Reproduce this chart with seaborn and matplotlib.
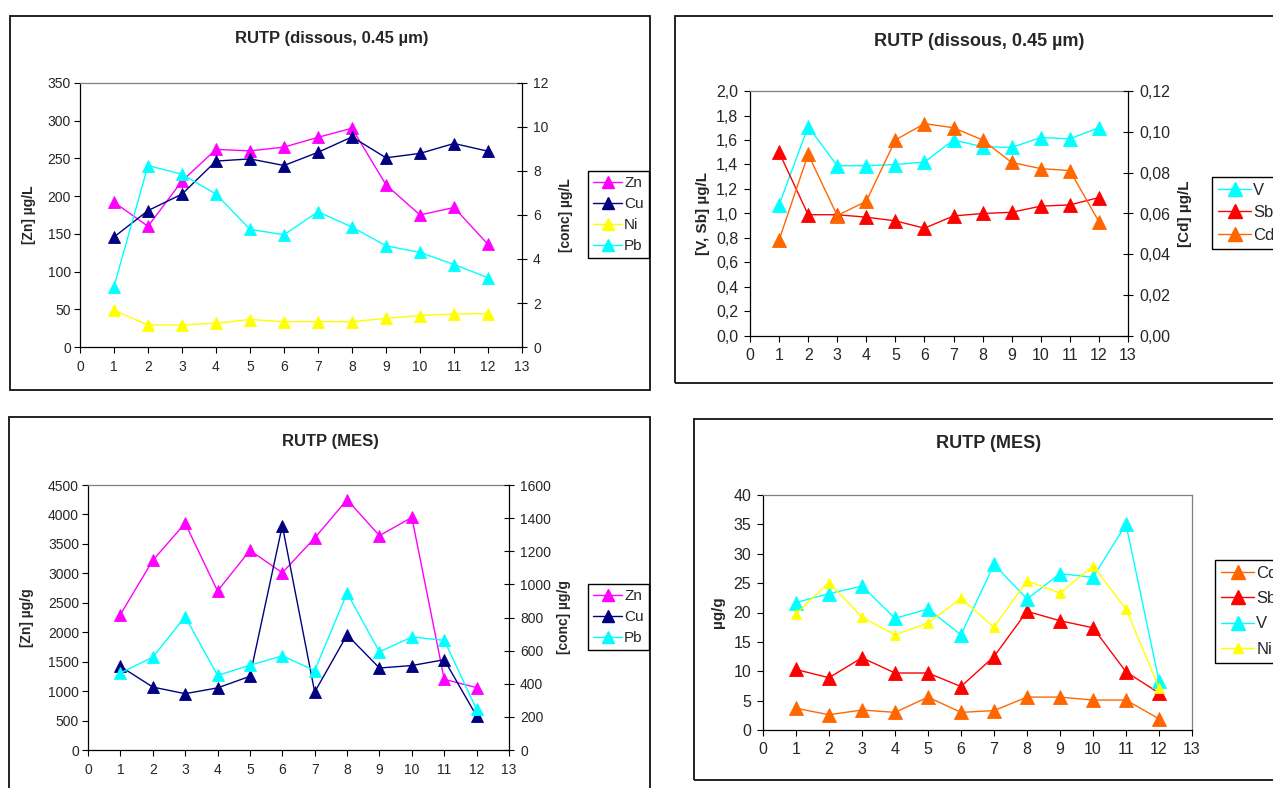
import matplotlib
matplotlib.use('Agg')
import matplotlib.pyplot as plt
import seaborn as sns
from matplotlib.patches import Rectangle
from matplotlib.ticker import FuncFormatter, MultipleLocator
from matplotlib.lines import Line2D

sns.set_style('white')
plt.rcParams['font.family'] = ['Liberation Sans', 'DejaVu Sans']

W, H = 1273, 788

# ---------------- data ----------------
stations = list(range(1, 13))
x_ticks = list(range(0, 14))

# Panel 1 : RUTP dissous (µg/L)
zn_d = [192, 160, 220, 262, 260, 265, 278, 290, 215, 175, 185, 136]
cu_d = [5.0, 6.2, 6.95, 8.45, 8.55, 8.25, 8.85, 9.55, 8.6, 8.8, 9.25, 8.9]
ni_d = [1.67, 1.0, 1.0, 1.08, 1.25, 1.15, 1.15, 1.15, 1.3, 1.43, 1.5, 1.52]
pb_d = [2.75, 8.25, 7.85, 6.95, 5.35, 5.1, 6.15, 5.45, 4.6, 4.3, 3.75, 3.15]

# Panel 2 : RUTP dissous (µg/L)
v_d = [1.07, 1.71, 1.39, 1.39, 1.40, 1.42, 1.60, 1.545, 1.54, 1.62, 1.61, 1.70]
sb_d = [1.50, 0.99, 0.99, 0.97, 0.94, 0.88, 0.98, 1.00, 1.01, 1.06, 1.07, 1.13]
cd_d = [0.047, 0.089, 0.059, 0.066, 0.096, 0.104, 0.102, 0.096, 0.085, 0.082, 0.081, 0.056]

# Panel 3 : RUTP MES (µg/g)
zn_m = [2300, 3220, 3850, 2700, 3390, 3010, 3600, 4250, 3640, 3950, 1200, 1060]
cu_m = [505, 380, 340, 375, 445, 1355, 350, 695, 495, 510, 545, 205]
pb_m = [465, 560, 805, 450, 512, 568, 480, 948, 593, 682, 662, 245]

# Panel 4 : RUTP MES (µg/g)
cd_m = [3.7, 2.6, 3.4, 3.0, 5.6, 3.0, 3.3, 5.6, 5.6, 5.1, 5.1, 1.9]
sb_m = [10.3, 8.9, 12.3, 9.7, 9.7, 7.4, 12.5, 20.2, 18.6, 17.4, 9.9, 6.3]
v_m = [21.7, 23.2, 24.5, 19.0, 20.6, 16.2, 28.2, 22.3, 26.6, 26.0, 35.0, 8.3]
ni_m = [19.8, 25.1, 19.2, 16.2, 18.2, 22.4, 17.5, 25.4, 23.3, 27.9, 20.6, 7.2]

C_ZN = '#FF00FF'
C_CU = '#000080'
C_NI = '#FFFF00'
C_PB = '#00FFFF'
C_SB = '#FF0000'
C_CD = '#FF6600'
GRAY = '#808080'

fig = plt.figure(figsize=(W / 100, H / 100), dpi=100)
fig.patch.set_facecolor('white')


def rect(x0, y0, x1, y1):
    return [x0 / W, 1 - y1 / H, (x1 - x0) / W, (y1 - y0) / H]


def frame(x0, y0, x1, y1):
    fig.add_artist(Rectangle((x0 / W, 1 - y1 / H), (x1 - x0) / W, (y1 - y0) / H,
                             transform=fig.transFigure, fill=False,
                             edgecolor='#111111', lw=1.3, clip_on=False))


def series(ax, y, color, ms):
    sns.lineplot(x=stations, y=y, ax=ax, color=color, marker='^',
                 markersize=ms, markeredgecolor=color, markeredgewidth=0.6,
                 linewidth=1.0, legend=False, errorbar=None)


def handle(color, ms):
    return Line2D([], [], color=color, marker='^', markersize=ms,
                  markeredgecolor=color, linewidth=1.0)


def comma(dec):
    return FuncFormatter(lambda v, p: f'{v:.{dec}f}'.replace('.', ','))


def style_main(ax, ymax, step, fs, lpad, xpad, right_spine, fmt=None):
    ax.set_xlim(0, 13)
    ax.set_xticks(x_ticks)
    ax.set_ylim(0, ymax)
    ax.yaxis.set_major_locator(MultipleLocator(step))
    if fmt is not None:
        ax.yaxis.set_major_formatter(fmt)
    ax.tick_params(axis='y', direction='out', length=4, width=0.8,
                   labelsize=fs, color='black', pad=lpad, left=True)
    ax.tick_params(axis='x', direction='out', length=4, width=0.8,
                   labelsize=fs, color='black', pad=xpad, bottom=True)
    ax.spines['left'].set_color('black')
    ax.spines['bottom'].set_color('black')
    ax.spines['left'].set_linewidth(0.9)
    ax.spines['bottom'].set_linewidth(0.9)
    ax.spines['top'].set_color(GRAY)
    ax.spines['top'].set_linewidth(0.9)
    if right_spine:
        ax.spines['right'].set_color(GRAY)
        ax.spines['right'].set_linewidth(0.9)
    else:
        ax.spines['right'].set_visible(False)
    ax.set_xlabel('')
    ax.set_facecolor('white')


def style_twin(ax2, ymax, step, fs, rpad, fmt=None):
    ax2.set_ylim(0, ymax)
    ax2.yaxis.set_major_locator(MultipleLocator(step))
    if fmt is not None:
        ax2.yaxis.set_major_formatter(fmt)
    for s in ['left', 'top', 'bottom']:
        ax2.spines[s].set_visible(False)
    ax2.spines['right'].set_visible(True)
    ax2.spines['right'].set_color('black')
    ax2.spines['right'].set_linewidth(0.9)
    ax2.tick_params(axis='y', direction='inout', length=7, width=0.8,
                    labelsize=fs, color='black', pad=rpad, right=True)
    ax2.set_xlabel('')


def legend(handles, labels, x, y, fs, spacing, hl):
    leg = fig.legend(handles, labels, loc='upper left',
                     bbox_to_anchor=(x / W, 1 - y / H),
                     bbox_transform=fig.transFigure, frameon=True,
                     fancybox=False, edgecolor='black', framealpha=1,
                     fontsize=fs, handlelength=hl, handletextpad=0.12,
                     borderpad=0.35, labelspacing=spacing, borderaxespad=0)
    leg.get_frame().set_linewidth(1.0)


# ---------------- Panel 1 ----------------
frame(10, 16, 650, 390)
ax1 = fig.add_axes(rect(80, 83, 522, 347))
series(ax1, zn_d, C_ZN, 9)
style_main(ax1, 350, 50, 10, 2.5, 5, False)
ax1.set_ylabel('[Zn] µg/L', fontsize=10, fontweight='bold')
ax1.yaxis.set_label_coords(-0.1, 0.5)
ax1b = ax1.twinx()
series(ax1b, cu_d, C_CU, 9)
series(ax1b, ni_d, C_NI, 9)
series(ax1b, pb_d, C_PB, 9)
style_twin(ax1b, 12, 2, 10, 4.5)
ax1b.set_ylabel('[conc] µg/L', fontsize=10, fontweight='bold')
ax1b.yaxis.set_label_coords(1.084, 0.5)
fig.text(332 / W, 1 - 39 / H, 'RUTP (dissous, 0.45 µm)', ha='center',
         va='center', fontsize=12, fontweight='bold')
legend([handle(C_ZN, 9), handle(C_CU, 9), handle(C_NI, 9), handle(C_PB, 9)],
       ['Zn', 'Cu', 'Ni', 'Pb'], 588, 171, 11, 0.45, 1.9)

# ---------------- Panel 2 ----------------
frame(675, 16, 1300, 383)
ax2 = fig.add_axes(rect(750, 91, 1128, 336))
series(ax2, v_d, C_PB, 10.5)
series(ax2, sb_d, C_SB, 10.5)
style_main(ax2, 2.0, 0.2, 11.5, 4.5, 5, False, comma(1))
ax2.set_ylabel('[V, Sb] µg/L', fontsize=11, fontweight='bold')
ax2.yaxis.set_label_coords(-0.106, 0.5)
ax2b = ax2.twinx()
series(ax2b, cd_d, C_CD, 10.5)
style_twin(ax2b, 0.12, 0.02, 11.5, 5, comma(2))
ax2b.set_ylabel('[Cd] µg/L', fontsize=11, fontweight='bold')
ax2b.yaxis.set_label_coords(1.132, 0.5)
fig.text(979 / W, 1 - 41 / H, 'RUTP (dissous, 0.45 µm)', ha='center',
         va='center', fontsize=13, fontweight='bold')
legend([handle(C_PB, 10.5), handle(C_SB, 10.5), handle(C_CD, 10.5)],
       ['V', 'Sb', 'Cd'], 1212, 177, 12, 0.45, 2.0)

# ---------------- Panel 3 ----------------
frame(9, 417, 650, 800)
ax3 = fig.add_axes(rect(88, 485, 509, 750))
series(ax3, zn_m, C_ZN, 9)
style_main(ax3, 4500, 500, 10, 2.5, 5, False)
ax3.set_ylabel('[Zn] µg/g', fontsize=10, fontweight='bold')
ax3.yaxis.set_label_coords(-0.128, 0.5)
ax3b = ax3.twinx()
series(ax3b, cu_m, C_CU, 9)
series(ax3b, pb_m, C_PB, 9)
style_twin(ax3b, 1600, 200, 10, 4.5)
ax3b.set_ylabel('[conc] µg/g', fontsize=10, fontweight='bold')
ax3b.yaxis.set_label_coords(1.114, 0.5)
fig.text(330 / W, 1 - 441 / H, 'RUTP (MES)', ha='center',
         va='center', fontsize=12, fontweight='bold')
legend([handle(C_ZN, 9), handle(C_CU, 9), handle(C_PB, 9)],
       ['Zn', 'Cu', 'Pb'], 588, 584, 11, 0.45, 1.9)

# ---------------- Panel 4 ----------------
frame(694, 419, 1300, 780)
ax4 = fig.add_axes(rect(763, 495, 1192, 730))
series(ax4, cd_m, C_CD, 10.5)
series(ax4, sb_m, C_SB, 10.5)
series(ax4, v_m, C_PB, 10.5)
series(ax4, ni_m, C_NI, 7.5)
style_main(ax4, 40, 5, 11.5, 4.5, 5, True)
ax4.set_ylabel('µg/g', fontsize=11, fontweight='bold')
ax4.yaxis.set_label_coords(-0.089, 0.5)
fig.text(989 / W, 1 - 443 / H, 'RUTP (MES)', ha='center',
         va='center', fontsize=13, fontweight='bold')
legend([handle(C_CD, 10.5), handle(C_SB, 10.5), handle(C_PB, 10.5), handle(C_NI, 7.5)],
       ['Cd', 'Sb', 'V', 'Ni'], 1215, 560, 12, 0.62, 2.0)

fig.savefig('out.png', dpi=100)
